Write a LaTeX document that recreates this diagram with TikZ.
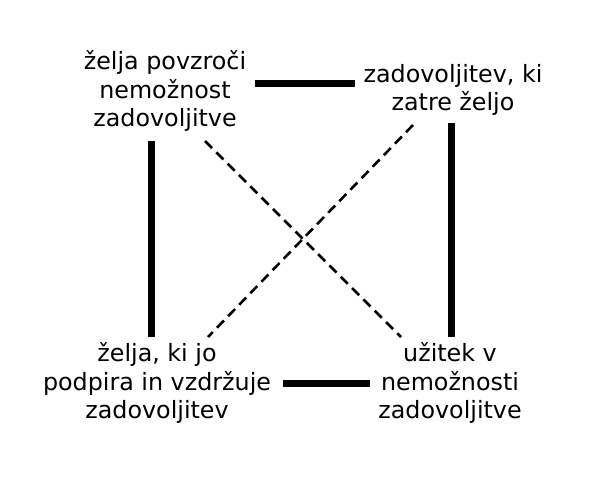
\documentclass[tikz,border=0pt]{standalone}
\usepackage{fontspec}
\setmainfont{DejaVu Sans}
\tikzset{
  lbl/.style={align=center, font=\fontsize{23.8}{28.5}\selectfont, inner sep=0pt},
  thick line/.style={line width=7pt},
  dash line/.style={line width=2.6pt, dash pattern=on 10pt off 6pt}
}
\begin{document}
\begin{tikzpicture}[x=1pt,y=-1pt]
\useasboundingbox (0,0) rectangle (593,476);
\node[lbl] (tl) at (165,91) {želja povzroči\\nemožnost\\zadovoljitve};
\node[lbl] (tr) at (453,90) {zadovoljitev, ki\\zatre željo};
\node[lbl] (bl) at (157,383) {želja, ki jo\\podpira in vzdržuje\\zadovoljitev};
\node[lbl] (br) at (450,383) {užitek v\\nemožnosti\\zadovoljitve};
\coordinate (a1) at (255,84); \coordinate (a2) at (355,84);
\coordinate (b1) at (151,141); \coordinate (b2) at (151,337);
\coordinate (c1) at (451,123); \coordinate (c2) at (451,337);
\coordinate (d1) at (283,383); \coordinate (d2) at (370,383);
\coordinate (e1) at (205,141); \coordinate (e2) at (401,337);
\coordinate (f1) at (413,125); \coordinate (f2) at (208,337);
\draw[thick line] (a1) -- (a2);
\draw[thick line] (b1) -- (b2);
\draw[thick line] (c1) -- (c2);
\draw[thick line] (d1) -- (d2);
\draw[dash line] (e1) -- (e2);
\draw[dash line] (f1) -- (f2);
\end{tikzpicture}
\end{document}
